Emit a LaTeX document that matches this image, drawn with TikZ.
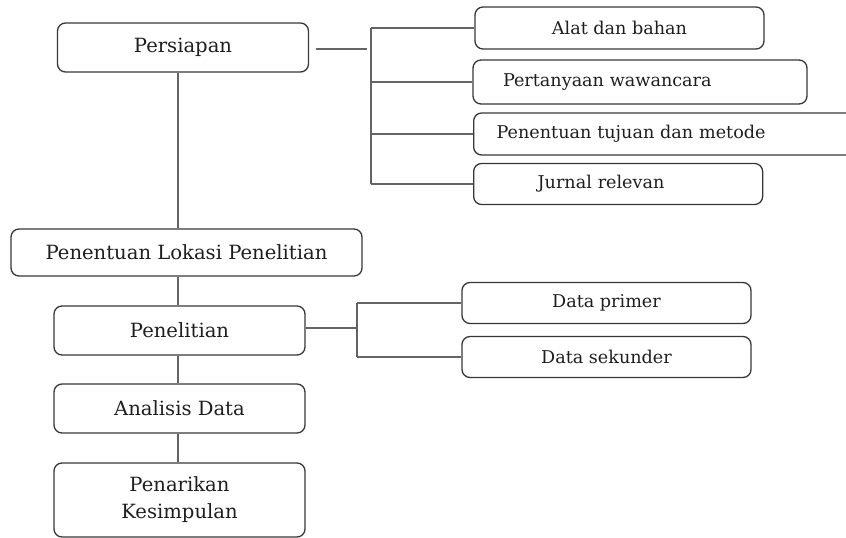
\documentclass[tikz,border=0pt]{standalone}
\usepackage{fontspec}
\setmainfont{DejaVu Serif}
\usetikzlibrary{positioning}
\definecolor{boxline}{RGB}{55,55,55}
\definecolor{linkgray}{RGB}{100,100,100}
\definecolor{inktext}{RGB}{30,30,30}
\tikzstyle{stage} = [rectangle, rounded corners=8pt, draw=boxline, line width=1.3pt, minimum width=251pt, minimum height=49pt, text centered, text=inktext, inner sep=0pt, font=\fontsize{19.6}{27}\selectfont]
\tikzstyle{item} = [stage, minimum width=289pt, minimum height=42pt, font=\fontsize{17.6}{20}\selectfont]
\tikzstyle{link} = [line width=1.4pt, color=linkgray]

\begin{document}
\begin{tikzpicture}[x=1pt, y=-1pt, node distance=78pt]
\useasboundingbox (0,0) rectangle (846,538);
\clip (0,0) rectangle (846,538);
% Main stages
\node (persiapan) [stage] at (183,47.5) {Persiapan};
\node (lokasi) [stage, minimum width=351pt, minimum height=47pt] at (186.5,252.5) {Penentuan Lokasi Penelitian};
\node (penelitian) [stage] at (179.5,330.5) {Penelitian};
\node (analisis) [stage, below of=penelitian] {Analisis Data};
\node (kesimpulan) [stage, below of=analisis, node distance=91.5pt, minimum height=74pt, align=center] {Penarikan\\Kesimpulan};

% Preparation items
\node (alat) [item] at (619.5,28) {Alat dan bahan};
\node (tanya) [item, minimum height=44pt, inner xsep=30pt, text width=274pt, align=left] at (640,82) {Pertanyaan wawancara};
\node (tujuan) [item, anchor=west, inner xsep=23pt, text width=380pt, align=left] at (473,134) {Penentuan tujuan dan metode};
\node (jurnal) [item, minimum height=41pt, anchor=west, inner xsep=64pt, text width=161pt, align=left] at (473,184) {Jurnal relevan};

% Data items
\node (primer) [item, minimum height=41pt] at (606.5,303) {Data primer};
\node (sekunder) [item, minimum height=41pt, below of=primer, node distance=54pt] {Data sekunder};

% Main flow
\coordinate (spine) at (178,0);
\draw[link] (spine |- persiapan.south) -- (spine |- lokasi.north);
\draw[link] (spine |- lokasi.south) -- (spine |- penelitian.north);
\draw[link] (spine |- penelitian.south) -- (spine |- analisis.north);
\draw[link] (spine |- analisis.south) -- (spine |- kesimpulan.north);

% Fork to preparation items
\coordinate (forkA) at (371,49);
\draw[link] ([xshift=7pt]persiapan.east |- forkA) -- ([xshift=-4pt]forkA);
\draw[link] (forkA |- alat.west) -- (forkA |- jurnal.west);
\foreach \n in {alat,tanya,tujuan,jurnal}
  \draw[link] (forkA |- \n.west) -- (\n.west);

% Fork to data items
\coordinate (forkB) at (357,328);
\draw[link] (penelitian.east |- forkB) -- (forkB);
\draw[link] (forkB |- primer.west) -- (forkB |- sekunder.west);
\foreach \n in {primer,sekunder}
  \draw[link] (forkB |- \n.west) -- (\n.west);
\end{tikzpicture}
\end{document}
